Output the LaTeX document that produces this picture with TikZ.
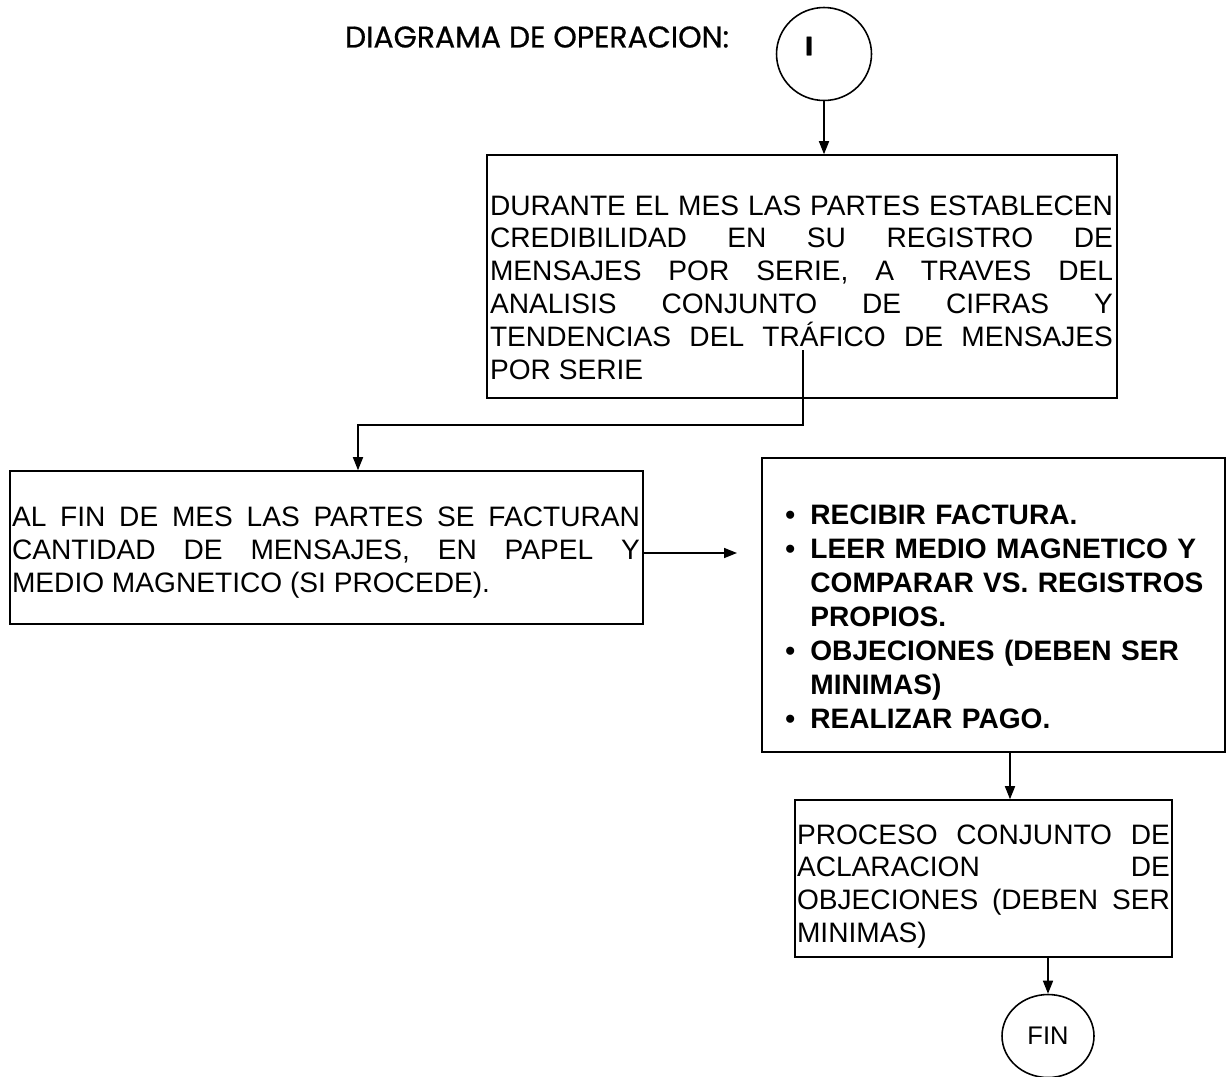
\documentclass[tikz,border=0pt]{standalone}
\usepackage{fontspec}
\setmainfont{Liberation Sans}
\newfontfamily\gotica{Poppins}[FakeBold=0.7]
\usetikzlibrary{positioning,shapes.geometric,arrows.meta}

\newcommand{\vineta}{\par\hangindent=0.5cm\hangafter=1\noindent\makebox[0.5cm][l]{\textbullet}}

\begin{document}
\begin{tikzpicture}[x=0.02cm, y=-0.02cm,
caja/.style={draw, line width=0.9pt, inner sep=0pt},
texto/.style={inner sep=0pt, align=justify, font=\fontsize{16pt}{18.7pt}\selectfont},
lista/.style={inner sep=0pt, anchor=west, text width=8.9cm, align=left, font=\fontsize{16pt}{19.3pt}\selectfont\bfseries},
flecha/.style={line width=0.9pt, -{Triangle[length=0.26cm,width=0.2cm]}},
circulo/.style={ellipse, draw, line width=0.9pt, inner sep=0pt}]

\useasboundingbox (0,0) rectangle (1230,1076);

\node[font=\gotica\fontsize{17pt}{20pt}\selectfont] (titulo) at (537,37) {DIAGRAMA DE OPERACION:};
\node[circulo, minimum width=1.9cm, minimum height=1.86cm] (inicio) at (824,54) {};
\node[font=\gotica\bfseries\fontsize{15pt}{16pt}\selectfont] (inicio-txt) at (809,46) {I};

% primer paso
\node[caja, minimum width=12.6cm, minimum height=4.86cm] (serie) at (802,276.5) {};
\node[texto, text width=12.46cm] (serie-txt) at (801.5,287.5) {DURANTE EL MES LAS PARTES ESTABLECEN\linebreak CREDIBILIDAD EN SU REGISTRO DE\linebreak MENSAJES POR SERIE, A TRAVES DEL\linebreak ANALISIS CONJUNTO DE CIFRAS Y\linebreak TENDENCIAS DEL TRÁFICO DE MENSAJES\linebreak POR SERIE};

% fin de mes
\node[caja, minimum width=12.66cm, minimum height=3.06cm] (factura) at (326.5,547.5) {};
\node[texto, text width=12.56cm] (factura-txt) at (326,552.5) {AL FIN DE MES LAS PARTES SE FACTURAN\linebreak CANTIDAD DE MENSAJES, EN PAPEL Y\linebreak MEDIO MAGNETICO (SI PROCEDE).};

% revision
\node[caja, minimum width=9.26cm, minimum height=5.88cm] (revision) at (993.5,605) {};
\node[lista] (revision-txt) at (785,609.5) {\vineta RECIBIR FACTURA.
\vineta LEER MEDIO MAGNETICO Y\linebreak COMPARAR VS. REGISTROS\linebreak PROPIOS.
\vineta OBJECIONES (DEBEN SER\linebreak MINIMAS)
\vineta REALIZAR PAGO.};

% aclaracion
\node[caja, minimum width=7.54cm, minimum height=3.14cm] (aclaracion) at (983.5,878.5) {};
\node[texto, text width=7.46cm] (aclaracion-txt) at (983.5,886.5) {PROCESO CONJUNTO DE\linebreak ACLARACION DE\linebreak OBJECIONES (DEBEN SER\linebreak MINIMAS)};

\node[circulo, minimum width=1.84cm, minimum height=1.66cm, font=\fontsize{14.5pt}{16pt}\selectfont] (fin) at (1048,1036) {FIN};

\coordinate (corte) at (803,350);
\coordinate (giro) at (358,425);
\coordinate (punta) at (737,553);

\draw[flecha] (inicio) -- (inicio |- serie.north);
\draw[flecha] (corte) |- (giro) -- (giro |- factura.north);
\draw[flecha] (factura.east |- punta) -- (punta);
\draw[flecha] ([xshift=0.33cm]revision.south) -- ([xshift=0.33cm]revision.south |- aclaracion.north);
\draw[flecha] (aclaracion.south -| fin.north) -- (fin.north);

\end{tikzpicture}
\end{document}
